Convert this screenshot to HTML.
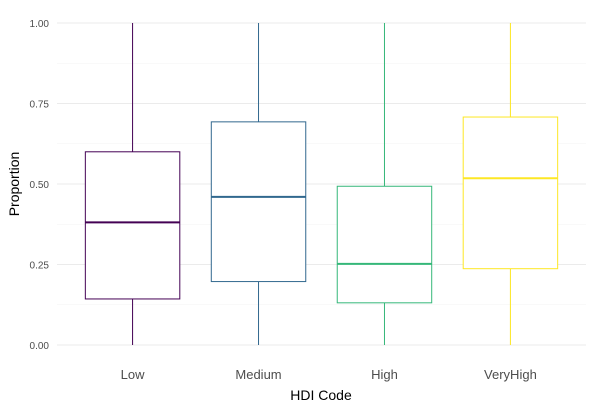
<!DOCTYPE html>
<html><head><meta charset="utf-8"><style>
body{margin:0;background:#fff;font-family:"Liberation Sans",sans-serif}
svg text{font-family:"Liberation Sans",sans-serif}
</style></head><body>
<svg id="chart" width="594" height="408">
<g id="grid"></g>
<g id="boxes"></g>
<g id="axes"></g>
<text x="321" y="400" text-anchor="middle" font-size="14" fill="#000">HDI Code</text>
<text transform="translate(19,184) rotate(-90)" text-anchor="middle" font-size="14" fill="#000">Proportion</text>
</svg>
<script>
const categories=["Low","Medium","High","VeryHigh"];
const colors=["#440154","#31688E","#35B779","#FDE725"];
const mins=[0,0,0,0];
const q1s=[0.143,0.197,0.131,0.237];
const medians=[0.381,0.46,0.252,0.518];
const q3s=[0.6,0.693,0.493,0.708];
const maxs=[1,1,1,1];
const yTicks=[0,0.25,0.5,0.75,1];
const yLabels=["0.00","0.25","0.50","0.75","1.00"];
const NS="http://www.w3.org/2000/svg";
const L=57,R=586,T=23,B=345;
const step=(R-L)/(categories.length+0.2);
const x=i=>L+step*(0.6+i);
const y=v=>B-(B-T)*v;
function mk(tag,attrs,parent){const e=document.createElementNS(NS,tag);for(const k in attrs)e.setAttribute(k,attrs[k]);parent.appendChild(e);return e;}
const grid=document.getElementById('grid'),boxes=document.getElementById('boxes'),axes=document.getElementById('axes');
for(let i=0;i<yTicks.length;i++){
  const g=mk('line',{x1:L,x2:R,y1:y(yTicks[i]),y2:y(yTicks[i]),stroke:'#ebebeb','stroke-width':1},grid);
  
  
  if(i<yTicks.length-1){
    const m=mk('line',{x1:L,x2:R,y1:y((yTicks[i]+yTicks[i+1])/2),y2:y((yTicks[i]+yTicks[i+1])/2),stroke:'#f3f3f3','stroke-width':0.6},grid);
    
    
  }
  const t=mk('text',{x:L-8,y:y(yTicks[i])+4,'text-anchor':'end','font-size':10,fill:'#4d4d4d'},axes);
  t.textContent=yLabels[i];
  
  
}
const bw=step*0.75;
categories.forEach((c,i)=>{
  const cx=x(i);
  const vg=mk('line',{x1:cx,x2:cx,y1:T,y2:B,stroke:'#ebebeb','stroke-width':1},grid);
  
  
  const g=mk('g',{},boxes);
  
  
  mk('line',{x1:cx,x2:cx,y1:y(maxs[i]),y2:y(q3s[i]),stroke:colors[i],'stroke-width':1},g);
  mk('line',{x1:cx,x2:cx,y1:y(q1s[i]),y2:y(mins[i]),stroke:colors[i],'stroke-width':1},g);
  mk('rect',{x:cx-bw/2,y:y(q3s[i]),width:bw,height:y(q1s[i])-y(q3s[i]),fill:'#fff',stroke:colors[i],'stroke-width':1},g);
  mk('line',{x1:cx-bw/2,x2:cx+bw/2,y1:y(medians[i]),y2:y(medians[i]),stroke:colors[i],'stroke-width':2},g);
  const t=mk('text',{x:cx,y:B+34,'text-anchor':'middle','font-size':13,fill:'#4d4d4d'},axes);
  t.textContent=c;
  
  
});
</script>
</body></html>
